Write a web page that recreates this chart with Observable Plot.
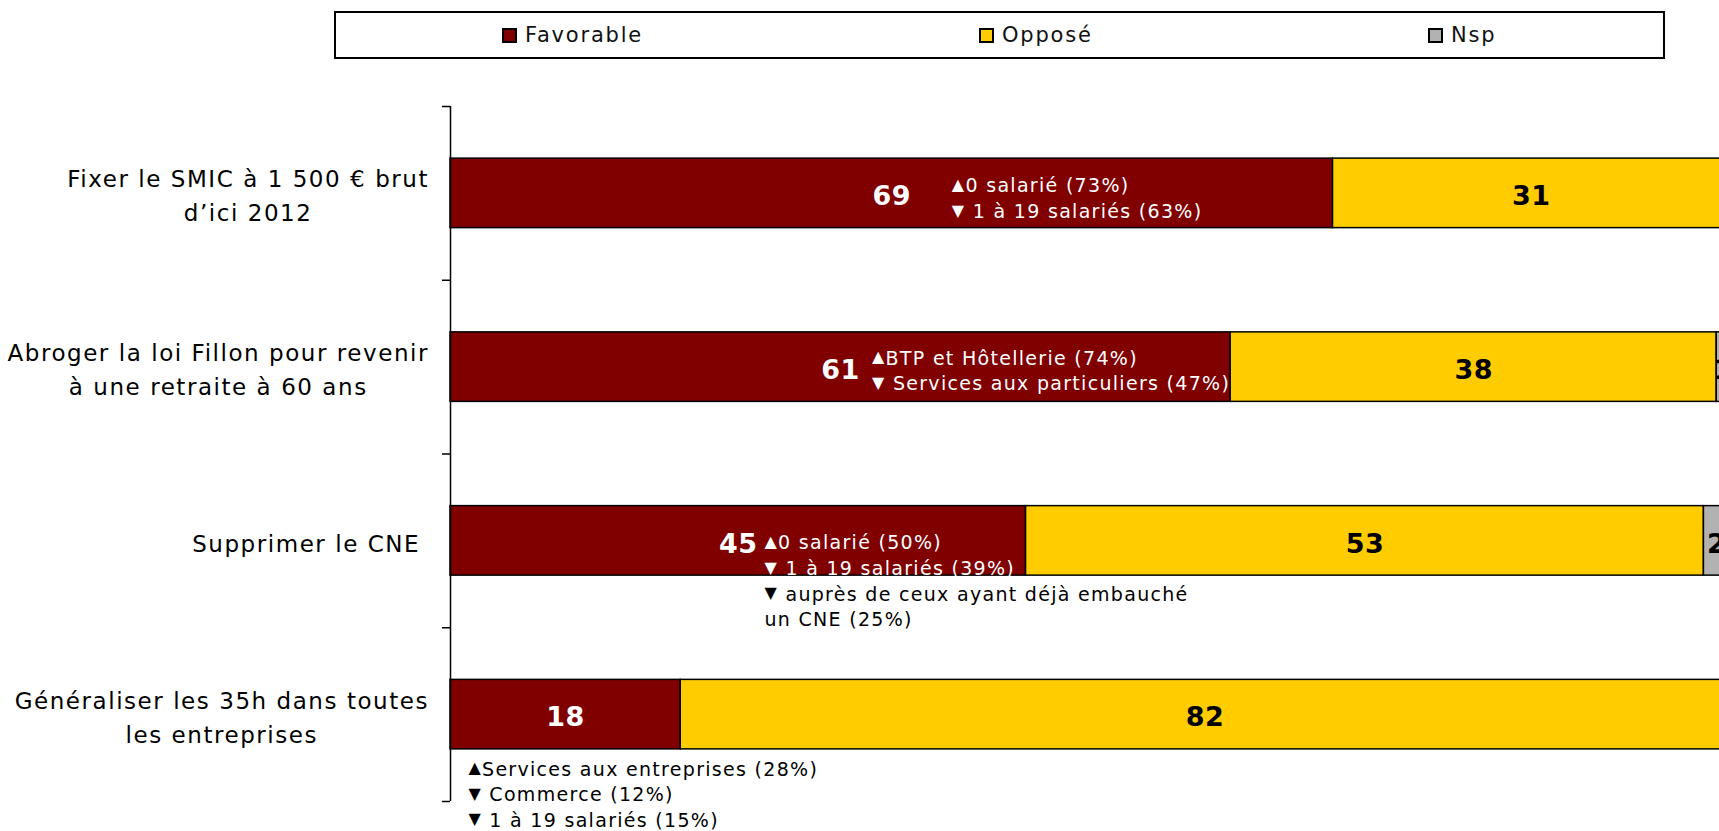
<!DOCTYPE html>
<html><head><meta charset="utf-8">
<script src="https://cdn.jsdelivr.net/npm/d3@7"></script>
<script src="https://cdn.jsdelivr.net/npm/@observablehq/plot@0.6"></script>
<style>
html,body{margin:0;padding:0;background:#fff;overflow:hidden;}
body{width:1719px;height:831px;font-family:"DejaVu Sans",Verdana,sans-serif;}
#legend{position:relative;height:70px;width:1719px;}
#legend .box{position:absolute;left:334px;top:11px;width:1331px;height:48px;border:2px solid #000;box-sizing:border-box;}
#legend .item{position:absolute;top:22px;height:26px;display:flex;align-items:center;font-size:21px;letter-spacing:1.8px;color:#111;white-space:nowrap;}
#legend .sw{width:15px;height:15px;border:2px solid #000;box-sizing:border-box;margin-right:8px;}
#chart svg{display:block;max-width:none !important;}
</style>
</head><body>
<div id="legend"><div class="box"></div></div>
<div id="chart"></div>
<script>
// ---- data ----
const categories = [
  "Fixer le SMIC à 1 500 € brut\nd’ici 2012",
  "Abroger la loi Fillon pour revenir\nà une retraite à 60 ans",
  "Supprimer le CNE ",
  "Généraliser les 35h dans toutes\nles entreprises"
];
const series = ["Favorable", "Opposé", "Nsp"];
const favorable = [69, 61, 45, 18];
const oppose = [31, 38, 53, 82];
const nsp = [0, 1, 2, 0];
const notes = [
  ["▲0 salarié (73%)", "▼ 1 à 19 salariés (63%)"],
  ["▲BTP et Hôtellerie (74%)", "▼ Services aux particuliers (47%)"],
  ["▲0 salarié (50%)", "▼ 1 à 19 salariés (39%)", "▼ auprès de ceux ayant déjà embauché", "un CNE (25%)"],
  ["▲Services aux entreprises (28%)", "▼ Commerce (12%)", "▼ 1 à 19 salariés (15%)"]
];

// ---- style / layout ----
const colors = ["#800000", "#FFCC00", "#B2B2B2"];
const W = 1719, H = 761, ML = 450;
const yTop = 36, yBottom = 731;
const step = (yBottom - yTop) / categories.length;
const noteX = [39.2, 32.95, 24.55, 1.4];      // start of each note, in x-scale units
const noteFirstDy = [-7, -8.5, 2.5, 55];      // px offset of first note line from band centre
const noteLineGap = 25.6;
const noteWhiteLines = [2, 2, 2, 0];          // lines drawn over the bar (white)
const legendLeft = [502, 979, 1428];

// ---- legend ----
const legend = document.getElementById("legend");
series.forEach((s, k) => {
  const it = document.createElement("div");
  it.className = "item";
  it.style.left = legendLeft[k] + "px";
  const sw = document.createElement("span");
  sw.className = "sw";
  sw.style.background = colors[k];
  it.appendChild(sw);
  it.appendChild(document.createTextNode(s));
  legend.appendChild(it);
});

// ---- tables ----
const values = [favorable, oppose, nsp];
const segs = [];
categories.forEach((c, i) => {
  let acc = 0;
  series.forEach((s, k) => {
    const v = values[k][i];
    segs.push({i, series: s, k, value: v, x1: acc, x2: acc + v});
    acc += v;
  });
});
const visible = segs.filter(d => d.value > 0);
const noteRows = notes.flatMap((lines, i) => lines.map((t, j) => ({i, j, text: t, inside: j < noteWhiteLines[i]})));
const noteY = d => d.i + 0.5 + (noteFirstDy[d.i] + d.j * noteLineGap) / step;

const plot = Plot.plot({
  width: W, height: H,
  marginLeft: ML, marginRight: 0, marginTop: yTop, marginBottom: H - yBottom,
  x: {domain: [0, 100], range: [ML, 1729], axis: null},
  y: {domain: [0, categories.length], range: [yTop, yBottom], axis: null},
  color: {domain: series, range: colors},
  style: {fontFamily: "DejaVu Sans, Verdana, sans-serif", background: "white", overflow: "hidden"},
  marks: [
    Plot.rect(visible, {x1: "x1", x2: "x2", y1: d => d.i + 0.3, y2: d => d.i + 0.7, fill: "series", stroke: "#000", strokeWidth: 1.5}),
    Plot.ruleX([0], {y1: 0, y2: categories.length, stroke: "#000", strokeWidth: 1.5}),
    Plot.axisY({ticks: d3.range(categories.length + 1), tickSize: 8, tickFormat: () => "", stroke: "#000", strokeWidth: 1.5}),
    Plot.text(categories, {x: 0, y: (d, i) => i + 0.5, text: d => d, textAnchor: "middle", lineAnchor: "middle", lineHeight: 1.48, fontSize: 23, fill: "#000"}),
    Plot.text(visible.filter(d => d.k === 0), {x: d => (d.x1 + d.x2) / 2, y: d => d.i + 0.5, text: d => String(d.value), fill: "#fff", fontSize: 27, fontWeight: "bold", dy: 3}),
    Plot.text(visible.filter(d => d.k !== 0), {x: d => (d.x1 + d.x2) / 2, y: d => d.i + 0.5, text: d => String(d.value), fill: "#000", fontSize: 27, fontWeight: "bold", dy: 3}),
    Plot.text(noteRows.filter(d => d.inside), {x: d => noteX[d.i], y: noteY, text: "text", textAnchor: "start", fill: "#fff", fontSize: 19}),
    Plot.text(noteRows.filter(d => !d.inside), {x: d => noteX[d.i], y: noteY, text: "text", textAnchor: "start", fill: "#000", fontSize: 19})
  ]
});
document.getElementById("chart").appendChild(plot);

// ---- text fine-tuning (measured after render) ----
const SVGNS = "http://www.w3.org/2000/svg";
const flatCats = categories.map(c => c.replace(/\n/g, ""));
const svgLeft = plot.getBoundingClientRect().left;
plot.querySelectorAll("text").forEach(t => {
  const s = t.textContent;
  if (flatCats.includes(s)) {
    t.style.letterSpacing = "1.55px";
    const r = t.getBoundingClientRect();
    const dx = (429 + svgLeft) - r.right;
    t.setAttribute("transform", `translate(${dx},0) ` + (t.getAttribute("transform") || ""));
  } else if (/^\d+$/.test(s)) {
    t.style.letterSpacing = "0.5px";
  } else if (noteRows.some(n => n.text === s)) {
    t.style.letterSpacing = "1.3px";
    if (/[▲▼]/.test(s)) {
      while (t.firstChild) t.removeChild(t.firstChild);
      const tri = document.createElementNS(SVGNS, "tspan");
      tri.textContent = s[0];
      tri.setAttribute("font-size", "16");
      tri.setAttribute("dy", "-2.5");
      const rest = document.createElementNS(SVGNS, "tspan");
      rest.textContent = s.slice(1);
      rest.setAttribute("dy", "2.5");
      t.appendChild(tri);
      t.appendChild(rest);
    }
  }
});
</script>
</body></html>
